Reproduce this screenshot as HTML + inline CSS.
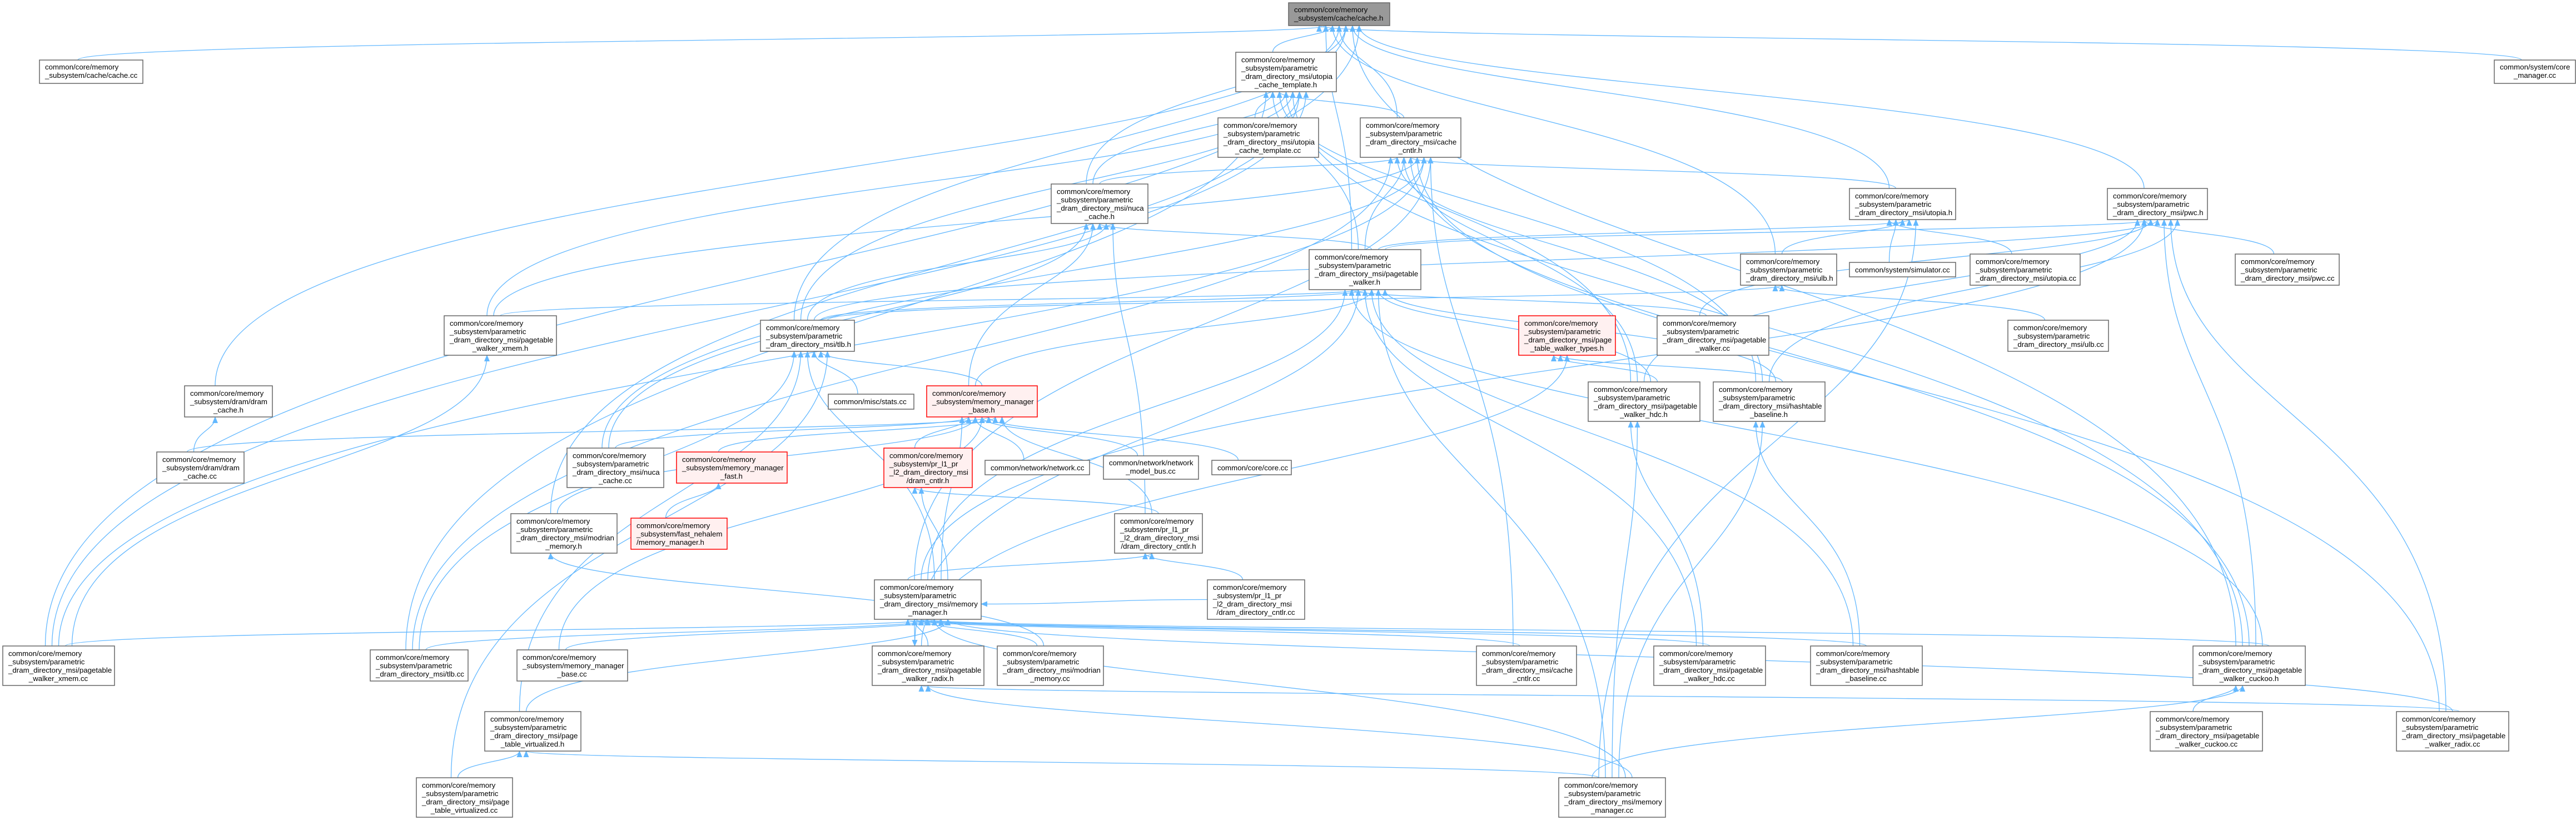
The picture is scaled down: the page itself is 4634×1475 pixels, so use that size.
<!DOCTYPE html>
<html><head><meta charset="utf-8">
<style>
html,body{margin:0;padding:0;background:#fff;}
svg{display:block;}
text{font-family:"Liberation Sans",Arial,sans-serif;font-size:13.3px;fill:#000;}
</style></head>
<body>
<svg id="svg" xmlns="http://www.w3.org/2000/svg" width="4634" height="1475" viewBox="0 0 4634 1475">
<defs>
<marker id="ah" markerWidth="12" markerHeight="10" refX="11" refY="5" orient="auto" markerUnits="userSpaceOnUse">
<path d="M0,0 L12,5 L0,10 z" fill="#63b8ff"/>
</marker>
</defs>
<g id="edges" fill="none" stroke="#63b8ff" stroke-width="1.3"></g>
<g id="nodes" stroke-width="1.5">
<rect x="2318" y="5" width="182" height="41" fill="#999999" stroke="#666"/>
<text x="2328" y="22">common/core/memory</text><text x="2328" y="37">_subsystem/cache/cache.h</text>

<rect x="71" y="108" width="186" height="42" fill="#fff" stroke="#666"/>
<text x="81" y="125">common/core/memory</text><text x="81" y="140">_subsystem/cache/cache.cc</text>

<rect x="2223" y="94" width="181" height="71" fill="#fff" stroke="#666"/>
<text x="2233" y="112">common/core/memory</text><text x="2233" y="127">_subsystem/parametric</text><text x="2233" y="142">_dram_directory_msi/utopia</text><text x="2313" y="157" text-anchor="middle">_cache_template.h</text>

<rect x="2191" y="212" width="181" height="71" fill="#fff" stroke="#666"/>
<text x="2201" y="230">common/core/memory</text><text x="2201" y="245">_subsystem/parametric</text><text x="2201" y="260">_dram_directory_msi/utopia</text><text x="2281" y="275" text-anchor="middle">_cache_template.cc</text>

<rect x="2447" y="212" width="181" height="71" fill="#fff" stroke="#666"/>
<text x="2457" y="230">common/core/memory</text><text x="2457" y="245">_subsystem/parametric</text><text x="2457" y="260">_dram_directory_msi/cache</text><text x="2537" y="275" text-anchor="middle">_cntlr.h</text>

<rect x="1891" y="331" width="174" height="71" fill="#fff" stroke="#666"/>
<text x="1901" y="349">common/core/memory</text><text x="1901" y="364">_subsystem/parametric</text><text x="1901" y="379">_dram_directory_msi/nuca</text><text x="1978" y="394" text-anchor="middle">_cache.h</text>

<rect x="3327" y="339" width="191" height="56" fill="#fff" stroke="#666"/>
<text x="3337" y="357">common/core/memory</text><text x="3337" y="372">_subsystem/parametric</text><text x="3337" y="387">_dram_directory_msi/utopia.h</text>

<rect x="3791" y="339" width="180" height="56" fill="#fff" stroke="#666"/>
<text x="3801" y="357">common/core/memory</text><text x="3801" y="372">_subsystem/parametric</text><text x="3801" y="387">_dram_directory_msi/pwc.h</text>

<rect x="4487" y="108" width="146" height="42" fill="#fff" stroke="#666"/>
<text x="4497" y="125">common/system/core</text><text x="4560" y="140" text-anchor="middle">_manager.cc</text>

<rect x="2355" y="449" width="201" height="72" fill="#fff" stroke="#666"/>
<text x="2365" y="467">common/core/memory</text><text x="2365" y="482">_subsystem/parametric</text><text x="2365" y="497">_dram_directory_msi/pagetable</text><text x="2455" y="512" text-anchor="middle">_walker.h</text>

<rect x="3131" y="457" width="173" height="56" fill="#fff" stroke="#666"/>
<text x="3141" y="475">common/core/memory</text><text x="3141" y="490">_subsystem/parametric</text><text x="3141" y="505">_dram_directory_msi/ulb.h</text>

<rect x="3327" y="472" width="191" height="26" fill="#fff" stroke="#666"/>
<text x="3337" y="490">common/system/simulator.cc</text>

<rect x="3544" y="457" width="198" height="56" fill="#fff" stroke="#666"/>
<text x="3554" y="475">common/core/memory</text><text x="3554" y="490">_subsystem/parametric</text><text x="3554" y="505">_dram_directory_msi/utopia.cc</text>

<rect x="4021" y="457" width="187" height="56" fill="#fff" stroke="#666"/>
<text x="4031" y="475">common/core/memory</text><text x="4031" y="490">_subsystem/parametric</text><text x="4031" y="505">_dram_directory_msi/pwc.cc</text>

<rect x="799" y="568" width="202" height="71" fill="#fff" stroke="#666"/>
<text x="809" y="586">common/core/memory</text><text x="809" y="601">_subsystem/parametric</text><text x="809" y="616">_dram_directory_msi/pagetable</text><text x="900" y="631" text-anchor="middle">_walker_xmem.h</text>

<rect x="1368" y="576" width="169" height="56" fill="#fff" stroke="#666"/>
<text x="1378" y="594">common/core/memory</text><text x="1378" y="609">_subsystem/parametric</text><text x="1378" y="624">_dram_directory_msi/tlb.h</text>

<rect x="3612" y="576" width="181" height="56" fill="#fff" stroke="#666"/>
<text x="3622" y="594">common/core/memory</text><text x="3622" y="609">_subsystem/parametric</text><text x="3622" y="624">_dram_directory_msi/ulb.cc</text>

<rect x="2732" y="568" width="174" height="71" fill="#fff0f0" stroke="#ff0000"/>
<text x="2742" y="586">common/core/memory</text><text x="2742" y="601">_subsystem/parametric</text><text x="2742" y="616">_dram_directory_msi/page</text><text x="2819" y="631" text-anchor="middle">_table_walker_types.h</text>

<rect x="2981" y="568" width="201" height="71" fill="#fff" stroke="#666"/>
<text x="2991" y="586">common/core/memory</text><text x="2991" y="601">_subsystem/parametric</text><text x="2991" y="616">_dram_directory_msi/pagetable</text><text x="3081" y="631" text-anchor="middle">_walker.cc</text>

<rect x="332" y="694" width="158" height="56" fill="#fff" stroke="#666"/>
<text x="342" y="712">common/core/memory</text><text x="342" y="727">_subsystem/dram/dram</text><text x="411" y="742" text-anchor="middle">_cache.h</text>

<rect x="1490" y="709" width="154" height="27" fill="#fff" stroke="#666"/>
<text x="1500" y="727">common/misc/stats.cc</text>

<rect x="1667" y="694" width="199" height="56" fill="#fff0f0" stroke="#ff0000"/>
<text x="1677" y="712">common/core/memory</text><text x="1677" y="727">_subsystem/memory_manager</text><text x="1766" y="742" text-anchor="middle">_base.h</text>

<rect x="2857" y="687" width="201" height="71" fill="#fff" stroke="#666"/>
<text x="2867" y="705">common/core/memory</text><text x="2867" y="720">_subsystem/parametric</text><text x="2867" y="735">_dram_directory_msi/pagetable</text><text x="2957" y="750" text-anchor="middle">_walker_hdc.h</text>

<rect x="3082" y="687" width="201" height="71" fill="#fff" stroke="#666"/>
<text x="3092" y="705">common/core/memory</text><text x="3092" y="720">_subsystem/parametric</text><text x="3092" y="735">_dram_directory_msi/hashtable</text><text x="3182" y="750" text-anchor="middle">_baseline.h</text>

<rect x="282" y="813" width="157" height="56" fill="#fff" stroke="#666"/>
<text x="292" y="831">common/core/memory</text><text x="292" y="846">_subsystem/dram/dram</text><text x="360" y="861" text-anchor="middle">_cache.cc</text>

<rect x="1217" y="813" width="199" height="56" fill="#fff0f0" stroke="#ff0000"/>
<text x="1227" y="831">common/core/memory</text><text x="1227" y="846">_subsystem/memory_manager</text><text x="1316" y="861" text-anchor="middle">_fast.h</text>

<rect x="1020" y="806" width="174" height="71" fill="#fff" stroke="#666"/>
<text x="1030" y="824">common/core/memory</text><text x="1030" y="839">_subsystem/parametric</text><text x="1030" y="854">_dram_directory_msi/nuca</text><text x="1107" y="869" text-anchor="middle">_cache.cc</text>

<rect x="1590" y="806" width="159" height="71" fill="#fff0f0" stroke="#ff0000"/>
<text x="1600" y="824">common/core/memory</text><text x="1600" y="839">_subsystem/pr_l1_pr</text><text x="1600" y="854">_l2_dram_directory_msi</text><text x="1669" y="869" text-anchor="middle">/dram_cntlr.h</text>

<rect x="1772" y="828" width="188" height="26" fill="#fff" stroke="#666"/>
<text x="1782" y="846">common/network/network.cc</text>

<rect x="1985" y="820" width="171" height="42" fill="#fff" stroke="#666"/>
<text x="1995" y="837">common/network/network</text><text x="2070" y="852" text-anchor="middle">_model_bus.cc</text>

<rect x="2180" y="828" width="143" height="26" fill="#fff" stroke="#666"/>
<text x="2190" y="846">common/core/core.cc</text>

<rect x="919" y="924" width="191" height="71" fill="#fff" stroke="#666"/>
<text x="929" y="942">common/core/memory</text><text x="929" y="957">_subsystem/parametric</text><text x="929" y="972">_dram_directory_msi/modrian</text><text x="1014" y="987" text-anchor="middle">_memory.h</text>

<rect x="1135" y="932" width="173" height="56" fill="#fff0f0" stroke="#ff0000"/>
<text x="1145" y="950">common/core/memory</text><text x="1145" y="965">_subsystem/fast_nehalem</text><text x="1145" y="980">/memory_manager.h</text>

<rect x="2005" y="924" width="158" height="71" fill="#fff" stroke="#666"/>
<text x="2015" y="942">common/core/memory</text><text x="2015" y="957">_subsystem/pr_l1_pr</text><text x="2015" y="972">_l2_dram_directory_msi</text><text x="2084" y="987" text-anchor="middle">/dram_directory_cntlr.h</text>

<rect x="1573" y="1043" width="192" height="71" fill="#fff" stroke="#666"/>
<text x="1583" y="1061">common/core/memory</text><text x="1583" y="1076">_subsystem/parametric</text><text x="1583" y="1091">_dram_directory_msi/memory</text><text x="1669" y="1106" text-anchor="middle">_manager.h</text>

<rect x="2172" y="1043" width="175" height="71" fill="#fff" stroke="#666"/>
<text x="2182" y="1061">common/core/memory</text><text x="2182" y="1076">_subsystem/pr_l1_pr</text><text x="2182" y="1091">_l2_dram_directory_msi</text><text x="2259" y="1106" text-anchor="middle">/dram_directory_cntlr.cc</text>

<rect x="5" y="1162" width="201" height="71" fill="#fff" stroke="#666"/>
<text x="15" y="1180">common/core/memory</text><text x="15" y="1195">_subsystem/parametric</text><text x="15" y="1210">_dram_directory_msi/pagetable</text><text x="105" y="1225" text-anchor="middle">_walker_xmem.cc</text>

<rect x="666" y="1169" width="176" height="56" fill="#fff" stroke="#666"/>
<text x="676" y="1187">common/core/memory</text><text x="676" y="1202">_subsystem/parametric</text><text x="676" y="1217">_dram_directory_msi/tlb.cc</text>

<rect x="930" y="1169" width="199" height="56" fill="#fff" stroke="#666"/>
<text x="940" y="1187">common/core/memory</text><text x="940" y="1202">_subsystem/memory_manager</text><text x="1029" y="1217" text-anchor="middle">_base.cc</text>

<rect x="1569" y="1162" width="201" height="71" fill="#fff" stroke="#666"/>
<text x="1579" y="1180">common/core/memory</text><text x="1579" y="1195">_subsystem/parametric</text><text x="1579" y="1210">_dram_directory_msi/pagetable</text><text x="1669" y="1225" text-anchor="middle">_walker_radix.h</text>

<rect x="1794" y="1162" width="191" height="71" fill="#fff" stroke="#666"/>
<text x="1804" y="1180">common/core/memory</text><text x="1804" y="1195">_subsystem/parametric</text><text x="1804" y="1210">_dram_directory_msi/modrian</text><text x="1889" y="1225" text-anchor="middle">_memory.cc</text>

<rect x="2656" y="1162" width="180" height="71" fill="#fff" stroke="#666"/>
<text x="2666" y="1180">common/core/memory</text><text x="2666" y="1195">_subsystem/parametric</text><text x="2666" y="1210">_dram_directory_msi/cache</text><text x="2746" y="1225" text-anchor="middle">_cntlr.cc</text>

<rect x="2975" y="1162" width="201" height="71" fill="#fff" stroke="#666"/>
<text x="2985" y="1180">common/core/memory</text><text x="2985" y="1195">_subsystem/parametric</text><text x="2985" y="1210">_dram_directory_msi/pagetable</text><text x="3075" y="1225" text-anchor="middle">_walker_hdc.cc</text>

<rect x="3257" y="1162" width="201" height="71" fill="#fff" stroke="#666"/>
<text x="3267" y="1180">common/core/memory</text><text x="3267" y="1195">_subsystem/parametric</text><text x="3267" y="1210">_dram_directory_msi/hashtable</text><text x="3357" y="1225" text-anchor="middle">_baseline.cc</text>

<rect x="3945" y="1162" width="202" height="71" fill="#fff" stroke="#666"/>
<text x="3955" y="1180">common/core/memory</text><text x="3955" y="1195">_subsystem/parametric</text><text x="3955" y="1210">_dram_directory_msi/pagetable</text><text x="4046" y="1225" text-anchor="middle">_walker_cuckoo.h</text>

<rect x="872" y="1280" width="173" height="71" fill="#fff" stroke="#666"/>
<text x="882" y="1298">common/core/memory</text><text x="882" y="1313">_subsystem/parametric</text><text x="882" y="1328">_dram_directory_msi/page</text><text x="958" y="1343" text-anchor="middle">_table_virtualized.h</text>

<rect x="3868" y="1280" width="202" height="71" fill="#fff" stroke="#666"/>
<text x="3878" y="1298">common/core/memory</text><text x="3878" y="1313">_subsystem/parametric</text><text x="3878" y="1328">_dram_directory_msi/pagetable</text><text x="3969" y="1343" text-anchor="middle">_walker_cuckoo.cc</text>

<rect x="4311" y="1280" width="202" height="71" fill="#fff" stroke="#666"/>
<text x="4321" y="1298">common/core/memory</text><text x="4321" y="1313">_subsystem/parametric</text><text x="4321" y="1328">_dram_directory_msi/pagetable</text><text x="4412" y="1343" text-anchor="middle">_walker_radix.cc</text>

<rect x="749" y="1399" width="173" height="71" fill="#fff" stroke="#666"/>
<text x="759" y="1417">common/core/memory</text><text x="759" y="1432">_subsystem/parametric</text><text x="759" y="1447">_dram_directory_msi/page</text><text x="835" y="1462" text-anchor="middle">_table_virtualized.cc</text>

<rect x="2804" y="1399" width="192" height="71" fill="#fff" stroke="#666"/>
<text x="2814" y="1417">common/core/memory</text><text x="2814" y="1432">_subsystem/parametric</text><text x="2814" y="1447">_dram_directory_msi/memory</text><text x="2900" y="1462" text-anchor="middle">_manager.cc</text>
</g>
</svg>
<script>
var N={A:[2318,5,2500,46],B:[71,108,257,150],C:[2223,94,2404,165],D:[2191,212,2372,283],E:[2447,212,2628,283],F:[1891,331,2065,402],G:[3327,339,3518,395],H:[3791,339,3971,395],I:[4487,108,4633,150],J:[2355,449,2556,521],K:[3131,457,3304,513],L:[3327,472,3518,498],M:[3544,457,3742,513],Nn:[4021,457,4208,513],O:[799,568,1001,639],P:[1368,576,1537,632],Q:[3612,576,3793,632],R:[2732,568,2906,639],S:[2981,568,3182,639],T:[332,694,490,750],U:[1490,709,1644,736],V:[1667,694,1866,750],W:[2857,687,3058,758],X:[3082,687,3283,758],Y:[282,813,439,869],Z:[1217,813,1416,869],AA:[1020,806,1194,877],AB:[1590,806,1749,877],AC:[1772,828,1960,854],AD:[1985,820,2156,862],AE:[2180,828,2323,854],AF:[919,924,1110,995],AG:[1135,932,1308,988],AH:[2005,924,2163,995],AI:[1573,1043,1765,1114],AJ:[2172,1043,2347,1114],AK:[5,1162,206,1233],AL:[666,1169,842,1225],AM:[930,1169,1129,1225],AN:[1569,1162,1770,1233],AO:[1794,1162,1985,1233],AP:[2656,1162,2836,1233],AQ:[2975,1162,3176,1233],AR:[3257,1162,3458,1233],AS:[3945,1162,4147,1233],AT:[872,1280,1045,1351],AU:[3868,1280,4070,1351],AV:[4311,1280,4513,1351],AW:[749,1399,922,1470],AX:[2804,1399,2996,1470]};
var E=[["B","A"],["C","A"],["E","A"],["F","A"],["G","A"],["H","A"],["I","A"],["J","A"],["K","A"],["T","A"],["P","A"],["AS","A"],["AK","A"],
["D","C"],["E","C"],["F","C"],["O","C"],["P","C"],["AK","C"],["AL","C"],["J","C"],["X","C"],["W","C"],["AS","C"],["AF","C"],
["F","E"],["J","E"],["G","E"],["O","E"],["AA","E"],["AP","E"],["AL","E"],["X","E"],["W","E"],["AS","E"],["AV","E"],["AK","E"],["AI","E"],
["AA","F"],["V","F"],["J","F"],["P","F"],["AH","F"],
["M","G"],["L","G"],["K","G"],["J","G"],["AX","G"],
["Nn","H"],["J","H"],["P","H"],["AS","H"],["AV","H"],["X","H"],["W","H"],["AI","H"],["S","H"],
["S","J"],["O","J"],["P","J"],["V","J"],["W","J"],["X","J"],["AI","J"],["AS","J"],["AN","J"],["AQ","J"],["AR","J"],["AX","J"],
["Q","K"],["P","K"],["W","R"],["X","R"],["AN","R"],
["AL","P"],["AT","P"],["AI","P"],["U","P"],["V","P"],["AW","P"],
["AB","V"],["AC","V"],["AD","V"],["AE","V"],["Z","V"],["AH","V"],["AI","V"],["AA","V"],["AF","V"],["AM","V"],["Y","V"],
["Y","T"],["AG","Z"],["AH","AB"],["AI","AB"],["AJ","AH"],["AI","AH"],["AQ","W"],["AX","W"],["AR","X"],["AX","X"],
["AN","AI"],["AO","AI"],["AK","AI"],["AL","AI"],["AM","AI"],["AT","AI"],["AP","AI"],["AQ","AI"],["AR","AI"],["AS","AI"],["AX","AI"],["AJ","AI"],["AV","AI"],
["AI","AN"],["AV","AN"],["AX","AN"],["AU","AS"],["AX","AS"],["AW","AT"],["AX","AT"],["AK","O"],["AO","AF"]];
var g=document.getElementById("edges"),ns="http://www.w3.org/2000/svg";
var cntIn={},cntOut={};
E.forEach(function(e,i){
 var s=N[e[0]],t=N[e[1]];
 var scx=(s[0]+s[2])/2,scy=(s[1]+s[3])/2,tcx=(t[0]+t[2])/2,tcy=(t[1]+t[3])/2;
 var ki=(cntIn[e[1]]=(cntIn[e[1]]||0)+1),ko=(cntOut[e[0]]=(cntOut[e[0]]||0)+1);
 var offT=((ki%7)-3)*12,offS=((ko%7)-3)*12;
 var sx,sy,tx,ty,d;
 if(Math.abs(tcy-scy)<40){
  if(tcx>scx){sx=s[2];tx=t[0];}else{sx=s[0];tx=t[2];}
  sy=scy;ty=tcy+offT/3;
  var mx=(sx+tx)/2;
  d="M"+sx+","+sy+" C"+mx+","+sy+" "+mx+","+ty+" "+tx+","+ty;
 }else{
  var up=tcy<scy;
  sx=Math.max(s[0]+8,Math.min(s[2]-8,scx+offS));
  tx=Math.max(t[0]+8,Math.min(t[2]-8,tcx+offT));
  sy=up?s[1]:s[3];ty=up?t[3]:t[1];
  var dy=ty-sy;
  d="M"+sx+","+sy+" C"+sx+","+(sy+dy*0.6)+" "+tx+","+(ty-dy*0.4)+" "+tx+","+ty;
 }
 var p=document.createElementNS(ns,"path");
 p.setAttribute("d",d);p.setAttribute("marker-end","url(#ah)");
 g.appendChild(p);
});
</script>
</body></html>
